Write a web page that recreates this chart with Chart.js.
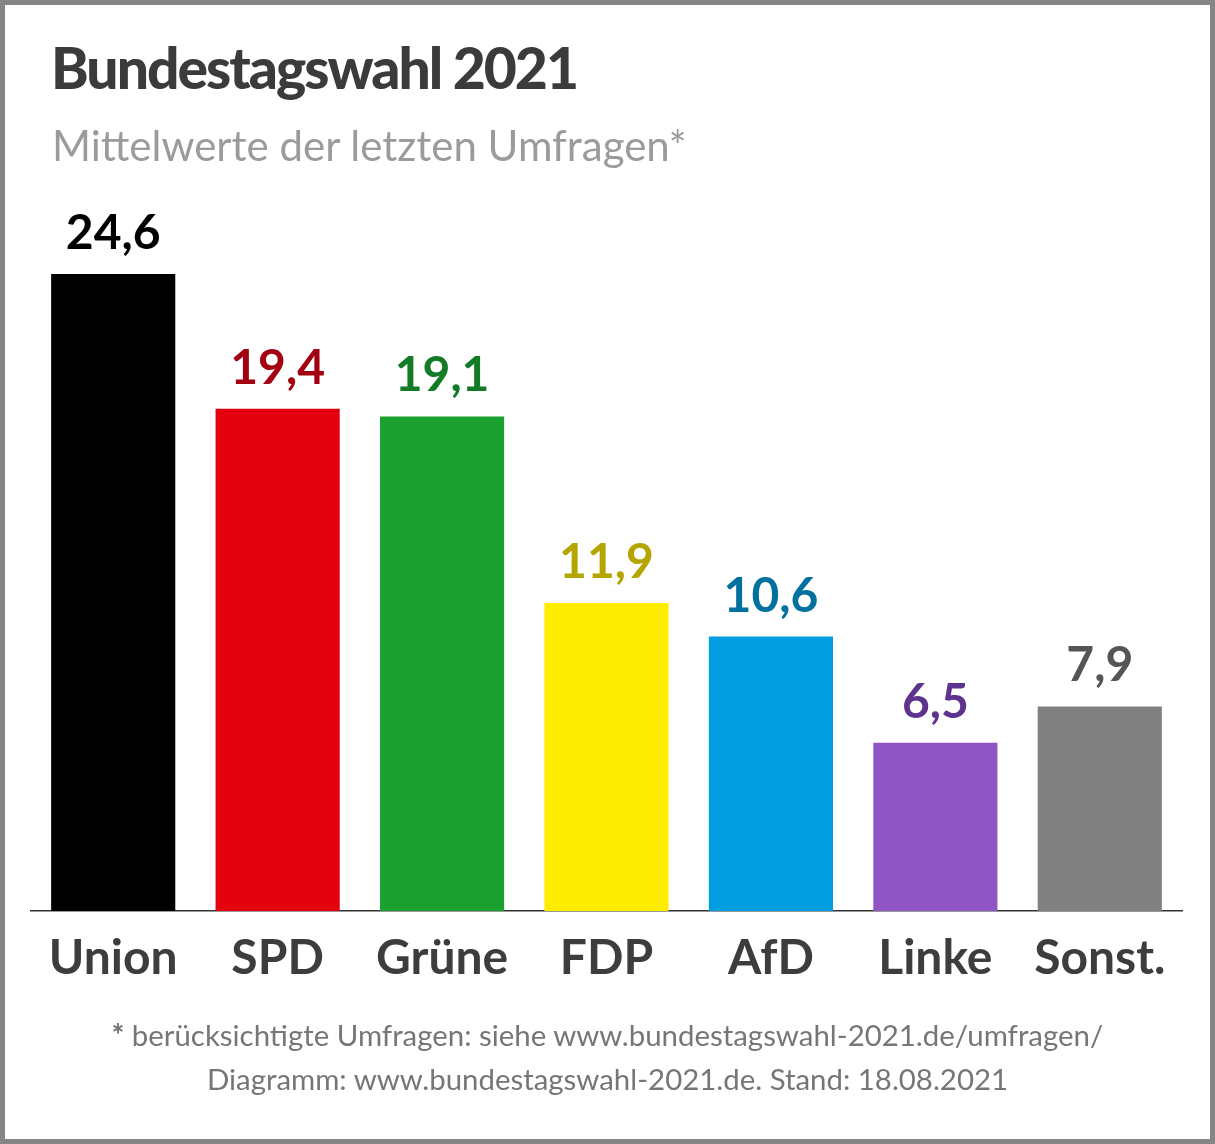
<!DOCTYPE html>
<html>
<head>
<meta charset="utf-8">
<script src="https://cdn.jsdelivr.net/npm/chart.js@4"></script>
<style>
  html, body { margin: 0; padding: 0; background: #fff; }
  #frame {
    position: relative; width: 1215px; height: 1144px; box-sizing: border-box;
    border: 5px solid #858585; background: #fff; overflow: hidden;
    font-family: Lato, "Open Sans", sans-serif;
  }
  #chart { position: absolute; left: -5px; top: -5px; }
  .title { position: absolute; left: 46px; top: 34px; font-size: 57px; font-weight: 900; letter-spacing: -2px; color: #3b3b3b; white-space: nowrap; line-height: 1; }
  .subtitle { position: absolute; left: 47px; top: 119px; font-size: 42px; font-weight: 400; color: #9b9b9b; white-space: nowrap; line-height: 1; }
  .footer { position: absolute; left: 0; right: 0; top: 1008px; text-align: center; font-size: 29.4px; color: #767676; line-height: 44px; }
  .footer b { font-weight: 900; }
</style>
</head>
<body>
<div id="frame">
  <canvas id="chart" width="1215" height="1144"></canvas>
  <div class="title">Bundestagswahl 2021</div>
  <div class="subtitle">Mittelwerte der letzten Umfragen*</div>
  <div class="footer"><b>*</b> berücksichtigte Umfragen: siehe www.bundestagswahl-2021.de/umfragen/<br>Diagramm: www.bundestagswahl-2021.de. Stand: 18.08.2021</div>
</div>
<script>
const parties = ['Union', 'SPD', 'Grüne', 'FDP', 'AfD', 'Linke', 'Sonst.'];
const values = [24.6, 19.4, 19.1, 11.9, 10.6, 6.5, 7.9];
const barColors = ['#000000', '#e3000f', '#1aa12f', '#ffed00', '#009ee0', '#8f55c5', '#808080'];
const labelColors = ['#000000', '#a30012', '#137a25', '#b5a500', '#00709f', '#5e338f', '#555555'];

// draws the "24,6" style numbers above each bar
const valueLabels = {
    id: 'valueLabels',
    afterDatasetsDraw(chart) {
        const ctx = chart.ctx;
        const meta = chart.getDatasetMeta(0);
        ctx.save();
        ctx.font = '700 48px Lato';
        ctx.textAlign = 'center';
        ctx.textBaseline = 'alphabetic';
        meta.data.forEach((bar, i) => {
            ctx.fillStyle = labelColors[i];
            ctx.fillText(values[i].toFixed(1).replace('.', ','), bar.x, bar.y - 25);
        });
        ctx.restore();
    }
};

new Chart(document.getElementById('chart'), {
    type: 'bar',
    data: {
        labels: parties,
        datasets: [{
            data: values,
            backgroundColor: barColors,
            borderWidth: 0,
            categoryPercentage: 1,
            barPercentage: 0.755
        }]
    },
    options: {
        responsive: false,
        animation: false,
        layout: { padding: { left: 31, right: 33, top: 186, bottom: 133 } },
        plugins: {
            legend: { display: false },
            tooltip: { enabled: false }
        },
        scales: {
            x: {
                grid: { display: false, drawTicks: false },
                border: { display: true, color: '#333333', width: 1.5 },
                ticks: { color: '#3d3d3d', font: { family: 'Lato', size: 48, weight: '700' }, padding: 19 },
                afterFit: (scale) => { scale.height = 100; }
            },
            y: {
                display: false,
                min: 0,
                max: 28
            }
        }
    },
    plugins: [valueLabels]
});
</script>
</body>
</html>
